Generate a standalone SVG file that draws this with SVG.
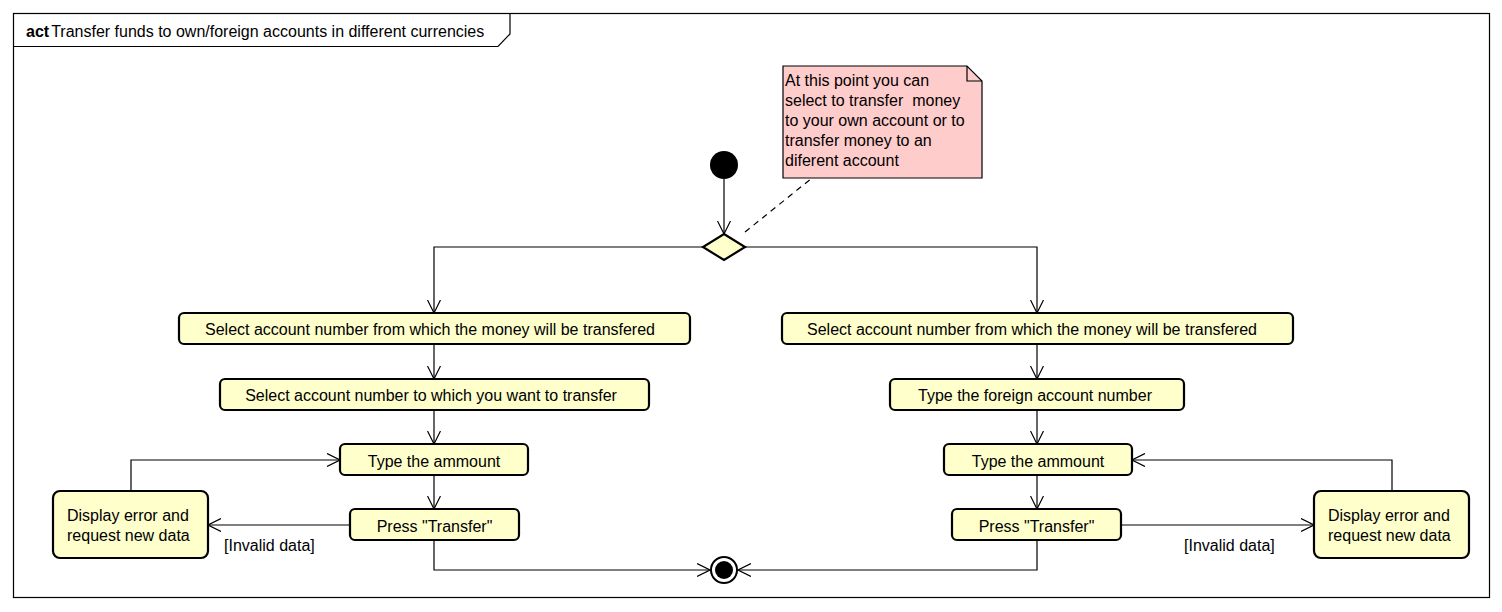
<svg xmlns="http://www.w3.org/2000/svg" width="1502" height="612" viewBox="0 0 1502 612">
  <defs>
    <marker id="open" viewBox="0 0 14 14" refX="13" refY="7" markerWidth="14" markerHeight="14" markerUnits="userSpaceOnUse" orient="auto">
      <path d="M0,0.5 L13,7 L0,13.5" fill="none" stroke="#000" stroke-width="1.2"/>
    </marker>
  </defs>
  <style>
    text { font-family: "Liberation Sans", Arial, sans-serif; font-size: 16px; fill: #000; white-space: pre; }
    .action { fill: #FFFFCC; stroke: #000; stroke-width: 2.2; }
    .flow { fill: none; stroke: #000; stroke-width: 1.2; }
    .c { text-anchor: middle; }
  </style>
  <rect width="1502" height="612" fill="#fff"/>

  <!-- frame -->
  <g id="frame">
    <rect x="13.5" y="13.5" width="1476" height="584" fill="none" stroke="#000" stroke-width="1.2"/>
    <path d="M13.5,46.5 H498 L510,34 V13.5" fill="none" stroke="#000" stroke-width="1.2"/>
    <text x="26" y="36.5"><tspan font-weight="bold">act</tspan><tspan dx="2">Transfer funds to own/foreign accounts in different currencies</tspan></text>
  </g>

  <!-- connectors -->
  <g id="connectors">
    <line class="flow" x1="724" y1="179" x2="724" y2="234" marker-end="url(#open)"/>
    <path class="flow" d="M703,247 H434 V313" marker-end="url(#open)"/>
    <path class="flow" d="M745,247 H1037 V313" marker-end="url(#open)"/>
    <line class="flow" x1="434" y1="344" x2="434" y2="379" marker-end="url(#open)"/>
    <line class="flow" x1="434" y1="410" x2="434" y2="444" marker-end="url(#open)"/>
    <line class="flow" x1="434" y1="475" x2="434" y2="509" marker-end="url(#open)"/>
    <line class="flow" x1="1037" y1="344" x2="1037" y2="379" marker-end="url(#open)"/>
    <line class="flow" x1="1037" y1="410" x2="1037" y2="444" marker-end="url(#open)"/>
    <line class="flow" x1="1037" y1="475" x2="1037" y2="509" marker-end="url(#open)"/>
    <line class="flow" x1="350" y1="525" x2="208" y2="525" marker-end="url(#open)"/>
    <path class="flow" d="M131,491 V460 H340" marker-end="url(#open)"/>
    <line class="flow" x1="1121" y1="525" x2="1314" y2="525" marker-end="url(#open)"/>
    <path class="flow" d="M1392,491 V460 H1132" marker-end="url(#open)"/>
    <path class="flow" d="M434,540 V570 H710" marker-end="url(#open)"/>
    <path class="flow" d="M1037,540 V570 H738" marker-end="url(#open)"/>
    <line x1="745" y1="232" x2="812" y2="178" stroke="#000" stroke-width="1.2" stroke-dasharray="6,5"/>
    <text x="224" y="551">[Invalid data]</text>
    <text x="1184" y="551">[Invalid data]</text>
  </g>

  <!-- control nodes -->
  <g id="initial">
    <circle cx="724" cy="165" r="14" fill="#000"/>
  </g>
  <g id="decision">
    <path d="M724,234 L745,247 L724,260 L703,247 Z" fill="#FFFFCC" stroke="#000" stroke-width="2.2"/>
  </g>
  <g id="final">
    <circle cx="724" cy="570" r="13" fill="#fff" stroke="#000" stroke-width="2"/>
    <circle cx="724" cy="570" r="9" fill="#000"/>
  </g>

  <!-- note -->
  <g id="note">
    <path d="M783,66 H967 L982,81 V178 H783 Z" fill="#FFCCCC" stroke="#000" stroke-width="1.2"/>
    <path d="M967,66 V81 H982" fill="none" stroke="#000" stroke-width="1.2"/>
    <text x="785" y="86">At this point you can</text>
    <text x="785" y="106">select to transfer  money</text>
    <text x="785" y="126">to your own account or to</text>
    <text x="785" y="146">transfer money to an</text>
    <text x="785" y="166">diferent account</text>
  </g>

  <!-- own account branch -->
  <g id="own-select-source">
    <rect class="action" x="179" y="313" width="511" height="31" rx="5"/>
    <text class="c" x="430" y="335">Select account number from which the money will be transfered</text>
  </g>
  <g id="own-select-target">
    <rect class="action" x="220" y="379" width="429" height="31" rx="5"/>
    <text class="c" x="431" y="401">Select account number to which you want to transfer</text>
  </g>
  <g id="own-amount">
    <rect class="action" x="340" y="444" width="188" height="31" rx="5"/>
    <text class="c" x="434" y="467">Type the ammount</text>
  </g>
  <g id="own-press">
    <rect class="action" x="350" y="509" width="169" height="31" rx="5"/>
    <text class="c" x="434.5" y="532">Press "Transfer"</text>
  </g>
  <g id="own-error">
    <rect class="action" x="53" y="491" width="155" height="67" rx="7"/>
    <text x="67" y="521">Display error and</text>
    <text x="67" y="541">request new data</text>
  </g>

  <!-- foreign account branch -->
  <g id="foreign-select-source">
    <rect class="action" x="782" y="313" width="511" height="31" rx="5"/>
    <text class="c" x="1032" y="335">Select account number from which the money will be transfered</text>
  </g>
  <g id="foreign-type-target">
    <rect class="action" x="890" y="379" width="294" height="31" rx="5"/>
    <text class="c" x="1035" y="401">Type the foreign account number</text>
  </g>
  <g id="foreign-amount">
    <rect class="action" x="944" y="444" width="188" height="31" rx="5"/>
    <text class="c" x="1038" y="467">Type the ammount</text>
  </g>
  <g id="foreign-press">
    <rect class="action" x="952" y="509" width="169" height="31" rx="5"/>
    <text class="c" x="1036.5" y="532">Press "Transfer"</text>
  </g>
  <g id="foreign-error">
    <rect class="action" x="1314" y="491" width="155" height="67" rx="7"/>
    <text x="1328" y="521">Display error and</text>
    <text x="1328" y="541">request new data</text>
  </g>
</svg>
